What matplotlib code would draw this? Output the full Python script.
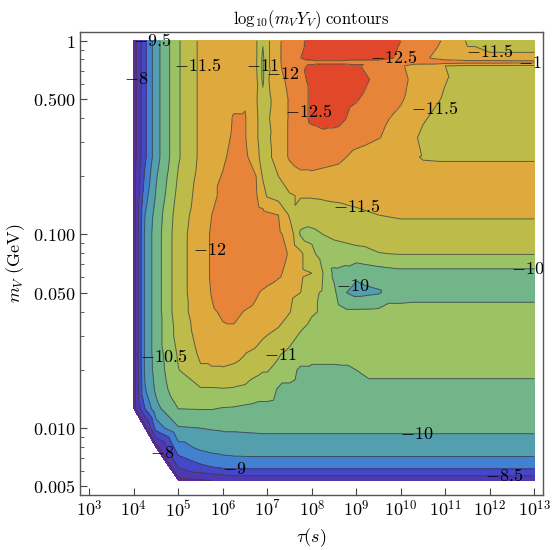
import numpy as np
import matplotlib
matplotlib.use('Agg')
import matplotlib.pyplot as plt
import matplotlib.tri as mtri
from matplotlib.path import Path

plt.rcParams['mathtext.fontset'] = 'cm'
plt.rcParams['font.family'] = 'serif'

nan = np.nan

# grid: log10(tau/s) columns, log10(m_V/GeV) rows (top -> bottom)
log_tau = [4.0, 4.25, 4.5, 5.0, 5.5, 5.75, 6.0, 6.25, 6.5, 6.75, 6.9, 7.0, 7.25, 7.5,
           7.75, 8.0, 8.25, 8.5, 8.75, 9.0, 9.5, 10.0, 10.5, 11.0, 11.5, 12.0, 12.5, 13.0]
log_m = [0.0, -0.09, -0.11, -0.13, -0.2, -0.3, -0.4, -0.5, -0.6, -0.7, -0.8, -0.9, -1.0,
         -1.1, -1.2, -1.3, -1.4, -1.5, -1.6, -1.7, -1.8, -1.9, -2.0, -2.1, -2.2, -2.27]

log_mY = [
    [-7.75, -8.9, -9.8, -10.95, -11.6, -11.75, -11.8, -11.8, -11.75, -11.55, -11.05, -11.4, -11.9, -12.3, -12.45, -12.6, -12.7, -12.75, -12.75, -12.7, -12.6, -12.5, -12.2, -11.95, -11.45, -11.3, -11.3, -11.3],
    [-7.75, -8.9, -9.8, -10.95, -11.6, -11.75, -11.8, -11.8, -11.75, -11.55, -10.9, -11.4, -11.9, -12.35, -12.5, -12.6, -12.7, -12.7, -12.65, -12.6, -12.6, -12.45, -12.1, -11.75, -11.6, -11.6, -11.6, -11.6],
    [-7.75, -8.9, -9.8, -10.95, -11.6, -11.75, -11.8, -11.8, -11.75, -11.55, -10.9, -11.4, -11.9, -12.35, -12.4, -12.4, -12.4, -12.4, -12.4, -12.4, -12.4, -12.35, -12.3, -12.3, -12.25, -12.25, -12.2, -12.2],
    [-7.75, -8.9, -9.8, -10.95, -11.6, -11.75, -11.8, -11.8, -11.75, -11.55, -10.9, -11.4, -11.9, -12.3, -12.45, -12.55, -12.6, -12.6, -12.6, -12.55, -12.3, -12.05, -11.75, -11.5, -11.4, -11.4, -11.4, -11.4],
    [-7.75, -8.9, -9.8, -10.95, -11.6, -11.75, -11.8, -11.85, -11.8, -11.6, -10.9, -11.45, -11.8, -12.15, -12.4, -12.6, -12.75, -12.8, -12.75, -12.65, -12.4, -12.1, -11.8, -11.52, -11.3, -11.3, -11.3, -11.3],
    [-7.75, -8.9, -9.8, -10.95, -11.6, -11.75, -11.8, -11.9, -11.95, -11.55, -11.15, -11.4, -11.7, -12.05, -12.3, -12.6, -12.75, -12.75, -12.65, -12.55, -12.2, -12.05, -11.7, -11.45, -11.28, -11.25, -11.25, -11.25],
    [-7.75, -8.9, -9.8, -10.95, -11.6, -11.75, -11.85, -12.03, -12.03, -11.6, -11.2, -11.45, -11.7, -12.05, -12.3, -12.6, -12.7, -12.65, -12.52, -12.3, -12.1, -11.9, -11.55, -11.3, -11.25, -11.25, -11.25, -11.25],
    [-7.75, -8.9, -9.8, -10.95, -11.6, -11.75, -11.9, -12.05, -12.03, -11.6, -11.2, -11.4, -11.75, -12.05, -12.2, -12.3, -12.35, -12.35, -12.3, -12.2, -12.02, -11.8, -11.4, -11.28, -11.28, -11.28, -11.28, -11.28],
    [-7.75, -8.9, -9.8, -10.95, -11.6, -11.85, -11.95, -12.1, -12.1, -11.7, -11.25, -11.35, -11.75, -12.05, -12.2, -12.25, -12.2, -12.15, -12.02, -11.85, -11.7, -11.6, -11.48, -11.47, -11.47, -11.47, -11.47, -11.47],
    [-7.8, -9.1, -9.95, -11.05, -11.65, -11.9, -12.02, -12.2, -12.2, -12.0, -11.45, -11.2, -11.5, -11.8, -11.9, -11.9, -11.85, -11.8, -11.75, -11.7, -11.6, -11.6, -11.6, -11.6, -11.6, -11.6, -11.6, -11.6],
    [-7.8, -9.3, -10.05, -11.15, -11.7, -11.9, -12.1, -12.2, -12.2, -12.05, -11.7, -11.45, -11.3, -11.45, -11.55, -11.55, -11.57, -11.6, -11.62, -11.65, -11.7, -11.7, -11.7, -11.7, -11.7, -11.7, -11.7, -11.7],
    [-7.8, -9.5, -10.2, -11.25, -11.75, -12.0, -12.2, -12.25, -12.25, -12.2, -12.15, -12.1, -12.0, -11.45, -11.15, -11.2, -11.25, -11.3, -11.35, -11.4, -11.5, -11.55, -11.55, -11.55, -11.55, -11.55, -11.55, -11.55],
    [-7.8, -9.6, -10.25, -11.3, -11.8, -12.05, -12.3, -12.35, -12.35, -12.3, -12.25, -12.2, -12.1, -11.8, -10.95, -10.9, -11.0, -11.1, -11.15, -11.2, -11.25, -11.3, -11.3, -11.3, -11.3, -11.3, -11.3, -11.3],
    [-7.8, -9.6, -10.25, -11.3, -11.8, -12.05, -12.3, -12.35, -12.35, -12.35, -12.3, -12.3, -12.2, -11.95, -11.6, -11.1, -10.8, -10.75, -10.8, -10.85, -10.98, -11.02, -11.02, -11.02, -11.02, -11.02, -11.02, -11.02],
    [-7.8, -9.6, -10.25, -11.3, -11.8, -12.05, -12.3, -12.35, -12.35, -12.3, -12.25, -12.2, -12.1, -11.8, -11.6, -11.5, -11.0, -10.4, -10.3, -10.1, -10.25, -10.35, -10.35, -10.35, -10.35, -10.35, -10.35, -10.35],
    [-7.8, -9.6, -10.25, -11.3, -11.8, -12.02, -12.2, -12.25, -12.2, -12.05, -11.95, -11.9, -11.75, -11.6, -11.5, -11.1, -10.95, -10.6, -10.02, -9.85, -9.95, -10.35, -10.35, -10.35, -10.35, -10.35, -10.35, -10.35],
    [-7.8, -9.6, -10.25, -11.3, -11.75, -11.95, -12.05, -12.08, -11.98, -11.9, -11.85, -11.8, -11.7, -11.52, -11.25, -11.05, -10.95, -10.8, -10.6, -10.6, -10.62, -10.62, -10.65, -10.65, -10.65, -10.65, -10.65, -10.65],
    [-7.8, -9.6, -10.25, -11.2, -11.7, -11.85, -11.95, -11.95, -11.85, -11.7, -11.6, -11.55, -11.45, -11.2, -11.0, -10.85, -10.75, -10.7, -10.7, -10.7, -10.72, -10.75, -10.75, -10.75, -10.75, -10.75, -10.75, -10.75],
    [-7.8, -9.6, -10.25, -11.08, -11.6, -11.7, -11.75, -11.7, -11.55, -11.45, -11.35, -11.3, -11.1, -10.95, -10.7, -10.62, -10.62, -10.62, -10.62, -10.62, -10.7, -10.7, -10.7, -10.7, -10.7, -10.7, -10.7, -10.7],
    [-7.8, -9.6, -10.2, -10.98, -11.45, -11.45, -11.45, -11.4, -11.3, -11.1, -11.03, -11.03, -10.85, -10.6, -10.45, -10.45, -10.45, -10.45, -10.46, -10.5, -10.58, -10.58, -10.58, -10.58, -10.58, -10.58, -10.58, -10.58],
    [-7.8, -9.45, -10.1, -10.85, -10.95, -10.95, -10.97, -10.95, -10.9, -10.8, -10.75, -10.75, -10.45, -10.45, -10.4, -10.4, -10.4, -10.4, -10.4, -10.4, -10.4, -10.4, -10.4, -10.4, -10.4, -10.4, -10.4, -10.4],
    [-7.8, -9.0, -9.85, -10.5, -10.52, -10.52, -10.47, -10.45, -10.4, -10.35, -10.35, -10.35, -10.3, -10.3, -10.28, -10.28, -10.28, -10.28, -10.28, -10.28, -10.25, -10.25, -10.25, -10.25, -10.25, -10.25, -10.25, -10.25],
    [nan, -7.8, -9.2, -9.95, -10.0, -10.03, -10.05, -10.05, -10.06, -10.07, -10.08, -10.08, -10.08, -10.08, -10.08, -10.08, -10.08, -10.08, -10.08, -10.08, -10.08, -10.08, -10.08, -10.08, -10.08, -10.08, -10.08, -10.08],
    [nan, nan, -7.8, -9.3, -9.6, -9.7, -9.75, -9.78, -9.8, -9.8, -9.8, -9.8, -9.8, -9.8, -9.8, -9.8, -9.8, -9.8, -9.8, -9.8, -9.8, -9.8, -9.8, -9.8, -9.8, -9.8, -9.8, -9.8],
    [nan, nan, nan, -8.55, -8.9, -9.0, -9.1, -9.15, -9.15, -9.15, -9.15, -9.15, -9.15, -9.15, -9.15, -9.15, -9.15, -9.15, -9.15, -9.15, -9.15, -9.15, -9.15, -9.15, -9.15, -9.15, -9.15, -9.15],
    [nan, nan, nan, -7.85, -7.95, -8.0, -8.1, -8.15, -8.15, -8.15, -8.15, -8.15, -8.15, -8.15, -8.15, -8.15, -8.15, -8.15, -8.15, -8.15, -8.15, -8.15, -8.15, -8.15, -8.15, -8.15, -8.15, -8.15],
]

levels = [-13.5, -12.5, -12.0, -11.5, -11.0, -10.5, -10.0, -9.5, -9.0, -8.5, -8.0, -7.0]
band_colors = ['#e0472b', '#e8843a', '#dfaa3d', '#bdbb4a', '#9bc264', '#72b589',
               '#539fae', '#4281d0', '#4347c8', '#4e38b4', '#5e2a9c']

# contour labels: level -> approximate spots (log tau, log m)
label_spots = {
    -8.0: [(3.98, -0.2), (4.52, -2.2)],
    -8.5: [(12.3, -2.26)],
    -9.0: [(6.28, -2.21)],
    -9.5: [(4.32, -0.02)],
    -10.0: [(8.86, -1.27), (10.38, -2.04)],
    -10.5: [(12.97, -1.18), (4.59, -1.65)],
    -11.0: [(6.8, -0.14), (7.19, -1.61)],
    -11.5: [(5.71, -0.13), (11.94, -0.01), (10.82, -0.37), (9.08, -0.875)],
    -12.0: [(7.6, -0.14), (12.95, -0.11), (5.78, -1.07)],
    -12.5: [(9.96, -0.05), (7.92, -0.37)],
}

y_tick_vals = [0.005, 0.01, 0.05, 0.1, 0.5, 1]
y_tick_text = ['0.005', '0.010', '0.050', '0.100', '0.500', '1']
y_minor_vals = [0.006, 0.007, 0.008, 0.009, 0.02, 0.03, 0.04, 0.06, 0.07, 0.08, 0.09,
                0.2, 0.3, 0.4, 0.6, 0.7, 0.8, 0.9]
x_decades = list(range(3, 14))

X, Y = np.meshgrid(log_tau, log_m)
Z = np.array(log_mY)
ok = ~np.isnan(Z)
tri = mtri.Triangulation(X[ok], Y[ok])
zv = Z[ok]

fig = plt.figure(figsize=(5.52, 5.5), dpi=100)
ax = fig.add_axes([80 / 552, 55 / 550, 463 / 552, 463 / 550])
ax.set_xlim(2.79, 13.196)
ax.set_ylim(-2.345, 0.045)

ax.tricontourf(tri, zv, levels=levels, colors=band_colors)
line_levels = levels[1:-1]
cs = ax.tricontour(tri, zv, levels=line_levels, colors='#3c3c3c', linewidths=0.7,
                   linestyles='solid', alpha=0.75)

# put each label on the nearest point of its own contour line
paths = cs.get_paths()
for lev, spots in label_spots.items():
    p = paths[line_levels.index(lev)]
    verts = p.vertices
    if p.codes is not None:
        verts = verts[p.codes != Path.CLOSEPOLY]
    disp = ax.transData.transform(verts)
    for sx, sy in spots:
        tx, ty = ax.transData.transform((sx, sy))
        k = np.argmin((disp[:, 0] - tx) ** 2 + (disp[:, 1] - ty) ** 2)
        ax.text(verts[k, 0], verts[k, 1], f'${lev:g}$', fontsize=13, ha='center',
                va='center', color='black', clip_on=True, zorder=5)

ax.set_xticks(x_decades)
ax.set_xticklabels([rf'$10^{{{k}}}$' for k in x_decades])
ax.set_yticks(np.log10(y_tick_vals))
ax.set_yticklabels([rf'${s}$' for s in y_tick_text])
ax.set_yticks(np.log10(y_minor_vals), minor=True)

ax.tick_params(which='major', direction='in', length=5, width=0.8, labelsize=13,
               top=False, right=False, color='#444444')
ax.tick_params(which='minor', direction='in', length=3, width=0.6,
               top=False, right=False, color='#444444')
for sp in ax.spines.values():
    sp.set_color('#555555')
    sp.set_linewidth(1.0)

ax.set_title(r'$\mathrm{log}_{10}(m_VY_V)\ \mathrm{contours}$', fontsize=12, pad=6)
ax.set_xlabel(r'$\tau(s)$', fontsize=13)
ax.set_ylabel(r'$m_V\ \mathrm{(GeV)}$', fontsize=13)

fig.savefig('out.png', dpi=100)
